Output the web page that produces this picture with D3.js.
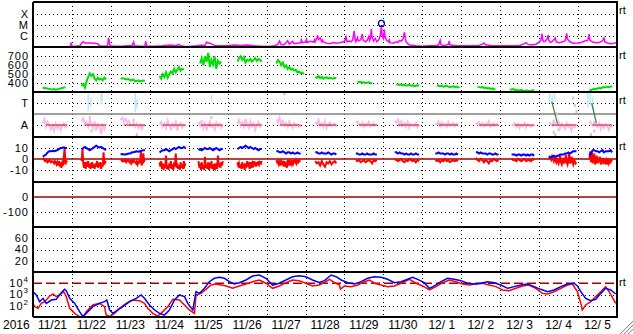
<!DOCTYPE html>
<html>
<head>
<meta charset="utf-8">
<script src="https://d3js.org/d3.v7.min.js"></script>
<style>
  body { margin: 0; background: #fff; }
  text { font-family: "Liberation Sans", Arial, sans-serif; fill: #000; }
</style>
</head>
<body>
<div id="chart"></div>
<script>
// set size and plot box
var svgWidth = 633;
var svgHeight = 334;
var left = 33, right = 617;
var panelTops = [2, 47, 92, 137, 182, 227, 272, 317];

// ---------------- data ----------------
// time is hours from 2016-11-21 00:00 UT
var startDate = Date.UTC(2016, 10, 21);
var endDate = Date.UTC(2016, 11, 6);

// x-ray flux, units of 1e-7 W/m2  [hour, flux]
var xray = [[23,1.3],[23.5,2.5],[24,1.2],[26,1.2],[29,1.3],[30,2.3],[31,3],[32,2.3],[35,2.3],[38,2.2],[40,2],[41,1.3],[44,1.2],[46,1.3],[46.5,7],[47,3.5],[47.5,1.3],[50,1.2],[55,1.2],[58,1.3],[61,1.3],[62,2.8],[62.5,1.3],[66,1.2],[69,1.2],[69.5,3.3],[70,1.2],[75,1.2],[80,1.3],[85,1.5],[88,1.3],[90,1.7],[91,1.3],[93,1.2],[96,1.1],[101,1.3],[104,1.5],[106,1.3],[107,2.7],[108,2.4],[110,1.9],[112,1.4],[116,1.3],[120,1.3],[124,1.5],[128,1.4],[132,1.5],[136,1.3],[140,1.2],[145,1.1],[149,1.3],[151,1.8],[152,3.5],[153,1.6],[155,1.7],[157,3.8],[158,1.8],[160,3.2],[161,2],[163,2.2],[165,2.4],[165.5,4.3],[166,2.5],[168,3],[168.6,5],[169,2.6],[171,3.3],[173,2.8],[173.5,4.5],[174,3],[175,7],[175.4,12],[176,5],[177,6.6],[178,3],[178.5,4.3],[179,2.8],[180,2.5],[181,2.2],[183,2],[185,2.6],[187,2.2],[189,2.4],[191,2.8],[192,3.3],[193,8],[193.5,3],[195,3.5],[196,3],[197,4],[198,30],[198.5,5],[199,3],[200,7],[200.5,3.5],[202,4.5],[203,15],[203.5,4],[205,3],[206,4],[207,9],[207.5,4],[208,6],[208.6,45],[209,8],[210,3.5],[211,6],[212,3],[213,4],[214,10],[214.8,80],[215.3,10],[216,6],[216.6,38],[217,8],[218,4],[219,3],[219.7,4.5],[220,2.5],[222,2.2],[224,3],[225,2.6],[226,4],[227,3.5],[228,5],[229,22],[229.5,6],[230,3],[231,2],[232,1.5],[236,1.3],[240,1.2],[244,1.3],[248,1.3],[250,1.5],[251,4],[251.5,1.6],[253,1.3],[256,1.7],[256.6,3.5],[257,1.5],[260,1.4],[265,1.3],[270,1.3],[275,1.4],[277,1.8],[278,2.3],[279,1.6],[282,1.4],[288,1.3],[294,1.3],[300,1.4],[303,2],[304,2.5],[305,1.8],[307,1.5],[310,1.8],[312,2.8],[313,4],[313.8,16],[314.3,4],[315,3],[316,3.5],[317,6],[317.5,12],[318,4],[319,2.6],[320,3],[322,6.6],[322.5,3],[324,2.5],[326,2.8],[328,3.5],[329,17],[329.5,5],[331,3],[333,2.2],[336,2.3],[338,2.6],[340,3.5],[342,4],[342.8,15],[343.3,4],[345,2.8],[347,2.4],[349,2.6],[351,3.5],[352,6.6],[352.5,3],[354,2.3],[356,2],[358,2.2],[360,2.5]];
var flareMark = [[214.8, 140]];
var xrayTickVals = [1000, 100, 10];
var xrayTickText = ["X", "M", "C"];

// solar wind speed km/s, hourly from each start hour
var swStart = [6, 30, 54, 78, 103, 126, 150, 174, 200, 224, 249, 274, 294, 343];
var swSpeed = [
  "345 348 342 340 335 330 328 332 326 330 336 340 345 350 352",
  "370 390 350 420 470 510 480 500 450 430 460 440 450 430 460 440",
  "450 455 450 445 440 445 430 435 440 420 425 430 420 425 430 425",
  "480 450 500 470 520 460 500 530 510 560 520 550 580 540 560 550",
  "620 680 600 700 640 740 580 660 610 700 560 650 620 640",
  "640 680 700 660 690 630 660 650 670 640 660 680 650 670 660 640",
  "620 660 640 600 630 580 600 560 580 550 560 540 550 520 530 510 520 500",
  "470 460 480 455 470 450 460 465 450 460 455 450 460 455",
  "420 410 415 405 410 400 405 410 400 395",
  "390 385 380 385 375 380 370 375 380 370 375 365 370 375 370",
  "375 370 365 370 360 365 370 360 355 360 365 355 360 350 355",
  "360 355 350 355 345 350 340 345 335 340 330 335",
  "330 325 335 320 325 315 320 325 315 310 320 315 310 315 320 315",
  "325 320 330 335 330 340 345 340 350 355 350 360 355 360 365"
];
var speedTicks = [700, 600, 500, 400];

// magnetic field segments [start hour, end hour]
var magSpan = [[6,21],[30,45],[54,69],[78,94],[102,117],[126,141],[150,165],[174,187],[199,212],[223,238],[248,262],[273,287],[295,309],[318,335],[343,357]];
// IMF angle (deg), spread evenly over each segment
var phiVals = [
  "150 180 120 160 140 100 130 90 145 110 135 95 125 150 115 130",
  "170 190 140 160 120 175 150 110 165 90 140 120 60 130 100 145",
  "175 195 160 185 150 170 140 130 155 120 145 110 135 100 125 140",
  "140 160 120 150 110 170 130 100 145 120 160 90 135 150 115 140 125",
  "160 130 175 110 150 90 140 165 120 135 100 155 125 145 110 130",
  "150 175 130 160 120 185 140 110 165 125 150 95 135 160 120 140",
  "180 160 195 140 170 130 150 120 165 135 110 150 125 140 115 130",
  "160 140 175 130 150 120 165 110 140 155 125 135 145 120",
  "150 165 140 130 155 120 145 135 160 125 140 150 130 135",
  "170 155 180 140 165 130 150 120 160 110 145 135 125 150 115 140",
  "150 140 165 125 155 135 145 120 160 130 140 150 125 145 135",
  "155 140 160 130 150 125 145 135 165 120 140 150 130 145 125",
  "140 130 150 120 145 110 135 125 150 115 140 130 120 135 125",
  "160 150 130 170 150 130 160 110 145 125 100 150 120 140 90 130 115 135",
  "170 150 130 160 140 120 150 100 135 110 140 125 95 130 115"
];
var phiCyan = [[34,250,390],[35.5,280,360],[42,300,405],[42.6,330,400],[63,240,400],[64,270,350],[110,330,380],[318.5,320,400],[320,300,390],[321.5,330,405],[342,280,400],[343.5,300,405],[345,260,360]];
var phiGray = [[35,200],[36,90],[62,180],[64,60],[110,200],[155,395],[321,80],[322,60],[323,230],[324,100],[333,360],[334,300],[335,250],[344,60],[346,90]];
var phiTrend = [[319.8,326,323.3,149],[344.4,315,347.3,151]];
var phiAway = 135, phiMid = 225;
var phiTickVals = [315, 135];
var phiTickText = ["T", "A"];

// Bt (nT) and Bz (nT), spread evenly over each segment
var btVals = [
  "2.5 3 4 6 7 7 7.5 7 7.5 8 9 10 10 10.5 10 10",
  "9 10 11 10 9 8 9 10 11 12 11 10.5 11 10 9 8",
  "4 4.5 4 4 4.5 5 5 6 6 6.5 7 6.5 7 7.5 8 8",
  "6 7 8 8 9 8 7 8 9 10 9 10 11 10 10 11 10",
  "8 9 8 9 10 9 9 10 9 8 9 10 9 8 9 9",
  "9 10 11 10 11 12 11 10 11 10 9 10 9 8 9 9",
  "7 7 6 6 7 6 5 6 6 5 6 5 5 6 5 5",
  "6 6 5 5 6 5 5 5 6 5 4 5 5 4",
  "5 5 4 4 5 4 4 5 4 4 4 5 4 4",
  "6 6 5 6 5 5 4 5 4 4 5 4 4 5 4 4",
  "5 5 6 5 5 5 4 5 5 4 5 4 4 5 4",
  "6 6 5 6 5 5 5 4 5 5 4 4 5 4 4",
  "4 4 4 3 4 4 3 4 4 3 4 3 4 4 3",
  "1 1.5 2 3 2 3 3 4 4 4 5 5 6 5 6 7 7 7",
  "3 5 8 8 7 7 6 7 8 6 7 7 7 8 6"
];
var bzVals = [
  "1 0 -1 -2 -1 -2 -3 -2 -1 -2 -3 -2 -2 -3 -4 -2 -3 -5 -3 -6 -2 -7 -3 -8 -4 -6 2 10 -5 -2 -3",
  "-2 9 -4 -8 -3 -9 -5 -7 -2 -8 -4 -9 -6 -3 -8 -5 -9 -4 -7 -2 -8 -5 -6 -3 -9 -4 -7 6 -5 -3 -2",
  "-1 -1 -2 -1 -2 -2 -1 -3 -2 -1 -2 -3 -2 -4 -2 -3 -1 -2 -3 -4 -2 -5 -3 -2 -4 7 -6 -3 5 -2 -1",
  "-3 -7 -2 -9 -4 -10 -5 -8 3 -9 -6 -10 -4 -8 -2 -9 -5 -10 -3 -7 5 -8 -4 -9 -6 -10 -3 -8 -5 -9 -2 -6 -4",
  "-2 -8 -4 -10 -3 -9 -6 -10 2 -8 -5 -9 -3 -10 -6 -8 -2 -9 -5 -10 -4 -8 -6 -9 3 -7 -4 -8 -3 -6 -2",
  "-3 -6 -4 -8 -5 -9 -3 -7 -6 -10 -4 -8 -2 -7 -5 -9 -3 -6 -4 -8 -2 -5 -4 -7 -3 -6 -2 -5 -3 -4 -2",
  "-1 -3 -2 -5 -3 -6 -2 -4 -3 -7 -2 -5 -3 -8 -1 -4 -2 -6 -3 -5 -1 -4 -2 -3 -1 -4 -2 -3 -1 -2 -2",
  "-2 -4 -3 -6 -2 -5 -7 -3 -4 -2 -5 -3 -2 -4",
  "-1 -2 -1 -3 -2 -1 -3 -2 -1 -2 -4 -1 -2 -1",
  "0 -1 -2 -1 0 -2 -3 -1 -2 0 -1 -2 -1 -3 -1 -2",
  "-1 -2 -1 -3 -1 -2 0 -2 -1 -3 -2 -1 -2 -1 -2",
  "1 -1 -2 0 -1 -3 -1 -2 -4 -1 -2 0 -1 -2 -1",
  "0 -1 -1 -2 0 -1 -2 -1 0 -2 -1 -1 -2 0 -1",
  "1 2 0 -1 2 0 -2 1 -1 -3 0 -2 -4 -1 3 -3 -5 -2 1 -4 -2 4 -3 -5 -1 5 -4 -2 2 -3 -5 -1 -2 -4 -3",
  "0 7 -3 6 -4 -1 5 -5 -2 3 -4 -1 -3 2 -5 -2 -4 1 -3 -2 -5 -1 -3 0 -4 -2 -3 -1 -2"
];
var bTicks = [10, 0, -10];

var dstTicks = [0, -100];
var kpTicks = [60, 40, 20];

// >2MeV electron flux [hour, flux]
var elecBlue = [[0,1780],[2,912],[4.1,229],[6.2,457],[8.2,162],[11.3,324],[14.3,372],[17.4,1450],[19.5,2880],[20.5,2190],[22.6,457],[25.7,162],[28.7,30],[30.8,11],[33.8,30],[36.9,83],[41,162],[44.1,229],[45.5,324],[47.2,42],[49.2,21],[52.3,42],[55.4,83],[59.5,229],[63.6,457],[66.6,912],[68.7,457],[71.8,117],[74.9,42],[78,21],[81,15],[84.1,42],[87.2,324],[90.3,912],[93.4,646],[95.4,162],[98.5,42],[100.5,1780],[102.6,1260],[105.7,3550],[108.7,13800],[111.8,27500],[114.9,33900],[118,27500],[121,13800],[124.1,8510],[127.2,11200],[131.3,19500],[135.4,43600],[139.5,53700],[143.6,27500],[147.7,6920],[151.8,10000],[155.9,19500],[160,38000],[164.1,46800],[168.2,38000],[172.3,19500],[176.4,12000],[179.7,17000],[183.8,53700],[186.9,38000],[190,19500],[194,11200],[198.2,8510],[202.3,13800],[206.3,27500],[210.5,38000],[214.6,33900],[218.6,22400],[222.8,11200],[226.9,13800],[230.9,22400],[234,33900],[237.1,22400],[241.2,11200],[244.3,3550],[247.4,5750],[251.5,13800],[255.6,27500],[259.7,22400],[263.8,17000],[267.9,10000],[272,8510],[276.1,10000],[280.2,13800],[284.3,11200],[288.4,6920],[292.5,3550],[296.6,5010],[300.7,6920],[304.8,8510],[308.9,5010],[313,2880],[317.1,1780],[321.2,2510],[325.4,5010],[329.4,8510],[333.5,10000],[335.6,5750],[337.7,1780],[340.7,457],[343.8,282],[346.9,372],[350,1260],[353,3550],[356.1,2510],[359.2,1100]];
var elecRed = [[0,162],[1,83],[3.1,59],[5.1,162],[7.2,229],[10.3,741],[12.3,1100],[14.3,646],[16.4,912],[18.9,1780],[20.5,646],[22.6,59],[25.7,21],[28.7,11],[30.8,8],[32.8,30],[36.9,117],[41,162],[44.1,83],[45.1,15],[47.2,11],[50.3,21],[53.4,59],[57.4,162],[61.5,324],[65.7,282],[68.7,162],[70.8,59],[73.8,21],[76.9,12],[80,30],[83.1,83],[86.2,372],[90.3,324],[93.4,117],[96.4,42],[99.5,21],[100.5,912],[103.6,1260],[106.6,2880],[109.7,6920],[112.8,8510],[115.9,6920],[119,5750],[123.1,3550],[127.2,5750],[131.3,8510],[135.4,13800],[139.5,19500],[143.6,10000],[147.7,3550],[151.8,5750],[155.9,11200],[160,19500],[164.1,17000],[168.2,10000],[172.3,5750],[176.4,6920],[179.7,12000],[182.8,22400],[185.8,11200],[188.9,6920],[189.5,3000],[192,5750],[196.1,5010],[200.2,6920],[204.3,13800],[207.4,19500],[210.5,10000],[214.6,6920],[218.6,5010],[222.8,5750],[226.9,10000],[232,22400],[236.1,10000],[240.2,5750],[244.3,2510],[248.4,5010],[252.5,11200],[256.6,19500],[260.7,13800],[264.8,8510],[268.9,6920],[273,8510],[277.1,10000],[281.2,6920],[285.4,5010],[289.4,2510],[293.5,2190],[297.7,3550],[301.7,5750],[305.8,6920],[309.9,3550],[314,1260],[317.1,1100],[321.2,1780],[325.4,3550],[329.4,6920],[332.5,8510],[335.6,1780],[337.7,162],[338.6,42],[340.7,117],[343.8,229],[346.9,646],[350,1780],[353,5010],[356.1,1100],[359.2,162]];
var elecAlert = 1e4;
var elecTicks = [1e4, 1e3, 1e2];
var elecExp = ["4", "3", "2"];

// ---------------- drawing ----------------
var svg = d3.select("#chart")
  .append("svg")
  .attr("width", svgWidth)
  .attr("height", svgHeight);

var x = d3.scaleTime()
  .domain([new Date(startDate), new Date(endDate)])
  .range([left, right]);

function hx(h) {
  return x(new Date(startDate + h * 3600e3));
}

var yXray = d3.scaleLog().domain([1, 1e4]).range([47, 3]);
var ySpeed = d3.scaleLinear().domain([300, 805]).range([92, 47]);
var yPhi = d3.scaleLinear().domain([37, 405]).range([137, 92]);
var yB = d3.scaleLinear().domain([-21, 20]).range([182, 137]);
var yDst = d3.scaleLinear().domain([-200, 100]).range([227, 182]);
var yKp = d3.scaleLinear().domain([0, 80]).range([272, 227]);
var yElec = d3.scaleLog().domain([10, 1e5]).range([317, 272]);

// clip each panel
var defs = svg.append("defs");
for (var i = 0; i < 7; i++) {
  defs.append("clipPath").attr("id", "clip" + i)
    .append("rect")
    .attr("x", left).attr("y", panelTops[i])
    .attr("width", right - left).attr("height", panelTops[i + 1] - panelTops[i]);
}

var gridGroup = svg.append("g").attr("shape-rendering", "crispEdges");

function dotted(y) {
  gridGroup.append("line")
    .attr("x1", left).attr("x2", right)
    .attr("y1", Math.round(y) + 0.5).attr("y2", Math.round(y) + 0.5)
    .attr("stroke", "#000")
    .attr("stroke-dasharray", "1,3");
}

xrayTickVals.forEach(v => dotted(yXray(v)));
speedTicks.forEach(v => dotted(ySpeed(v)));
phiTickVals.forEach(v => dotted(yPhi(v)));
[10, -10].forEach(v => dotted(yB(v)));
[-100].forEach(v => dotted(yDst(v)));
kpTicks.forEach(v => dotted(yKp(v)));
[1e3, 1e2].forEach(v => dotted(yElec(v)));

// vertical day lines
var days = d3.utcDay.range(new Date(startDate + 86400e3), new Date(endDate));
gridGroup.selectAll(".vday")
  .data(days)
  .enter()
  .append("line")
  .attr("x1", d => Math.round(x(d)) + 0.5)
  .attr("x2", d => Math.round(x(d)) + 0.5)
  .attr("y1", panelTops[0])
  .attr("y2", panelTops[7])
  .attr("stroke", "#000")
  .attr("stroke-dasharray", "1,3");

// reference lines
function refLine(y, color, dash, w) {
  svg.append("line")
    .attr("x1", left).attr("x2", right)
    .attr("y1", y).attr("y2", y)
    .attr("stroke", color)
    .attr("stroke-width", w)
    .attr("stroke-dasharray", dash);
}
refLine(yPhi(phiMid), "#808080", null, 1.5);
refLine(yB(0), "#a00000", null, 1.5);
refLine(yDst(0), "#a00000", null, 1.5);
refLine(yElec(elecAlert), "#a00000", "9,4", 1.5);

// helper: spread a value string evenly over a span
function spread(t0, t1, str) {
  var vals = str.split(" ").map(Number);
  var step = (t1 - t0) / (vals.length - 1);
  return vals.map((v, i) => [t0 + i * step, v]);
}

// x-ray panel
var xrayLine = d3.line().x(d => hx(d[0])).y(d => yXray(d[1]));
svg.append("path")
  .attr("clip-path", "url(#clip0)")
  .attr("d", xrayLine(xray))
  .attr("fill", "none")
  .attr("stroke", "#ff00ff")
  .attr("stroke-width", 1.5);
svg.selectAll(".flare")
  .data(flareMark)
  .enter()
  .append("circle")
  .attr("cx", d => hx(d[0]))
  .attr("cy", d => yXray(d[1]))
  .attr("r", 3)
  .attr("fill", "none")
  .attr("stroke", "#0000c0")
  .attr("stroke-width", 1.2);

// solar wind speed
var speedLine = d3.line().x(d => hx(d[0])).y(d => ySpeed(d[1]));
swSpeed.forEach(function(str, i) {
  var vals = str.split(" ").map(Number);
  var pts = spread(swStart[i], swStart[i] + vals.length - 1, str);
  svg.append("path")
    .attr("clip-path", "url(#clip1)")
    .attr("d", speedLine(pts))
    .attr("fill", "none")
    .attr("stroke", "#00e000")
    .attr("stroke-width", 2);
});

// IMF direction panel
var phiLine = d3.line().x(d => hx(d[0])).y(d => yPhi(d[1]));
magSpan.forEach(function(s, i) {
  svg.append("path")
    .attr("clip-path", "url(#clip2)")
    .attr("d", phiLine(spread(s[0], s[1], phiVals[i])))
    .attr("fill", "none")
    .attr("stroke", "#f4bcf0")
    .attr("stroke-width", 2);
});
svg.selectAll(".gray")
  .data(phiGray)
  .enter()
  .append("rect")
  .attr("x", d => hx(d[0]) - 1)
  .attr("y", d => yPhi(d[1]) - 1)
  .attr("width", 2).attr("height", 3)
  .attr("fill", "#c8c8c8");
svg.selectAll(".cyan")
  .data(phiCyan)
  .enter()
  .append("line")
  .attr("clip-path", "url(#clip2)")
  .attr("x1", d => hx(d[0])).attr("x2", d => hx(d[0]))
  .attr("y1", d => yPhi(d[1])).attr("y2", d => yPhi(d[2]))
  .attr("stroke", "#bce8f6")
  .attr("stroke-width", 1.5);
svg.selectAll(".away")
  .data(magSpan)
  .enter()
  .append("line")
  .attr("x1", d => hx(d[0] + 2)).attr("x2", d => hx(d[1]))
  .attr("y1", yPhi(phiAway)).attr("y2", yPhi(phiAway))
  .attr("stroke", "#e03030")
  .attr("stroke-width", 1.2);
svg.selectAll(".trend")
  .data(phiTrend)
  .enter()
  .append("line")
  .attr("x1", d => hx(d[0])).attr("y1", d => yPhi(d[1]))
  .attr("x2", d => hx(d[2])).attr("y2", d => yPhi(d[3]))
  .attr("stroke", "#3c8040")
  .attr("stroke-width", 1.2);

// Bt / Bz panel
var bLine = d3.line().x(d => hx(d[0])).y(d => yB(d[1]));
magSpan.forEach(function(s, i) {
  svg.append("path")
    .attr("clip-path", "url(#clip3)")
    .attr("d", bLine(spread(s[0], s[1], bzVals[i])))
    .attr("fill", "none")
    .attr("stroke", "#ff0000")
    .attr("stroke-width", 2);
  svg.append("path")
    .attr("clip-path", "url(#clip3)")
    .attr("d", bLine(spread(s[0], s[1], btVals[i])))
    .attr("fill", "none")
    .attr("stroke", "#0000ff")
    .attr("stroke-width", 2);
});

// electron flux panel
var eLine = d3.line().x(d => hx(d[0])).y(d => yElec(Math.max(d[1], 5)));
svg.append("path")
  .attr("clip-path", "url(#clip6)")
  .attr("d", eLine(elecRed))
  .attr("fill", "none")
  .attr("stroke", "#ff0000")
  .attr("stroke-width", 1.5);
svg.append("path")
  .attr("clip-path", "url(#clip6)")
  .attr("d", eLine(elecBlue))
  .attr("fill", "none")
  .attr("stroke", "#0000ff")
  .attr("stroke-width", 1.5);

// panel frames
var frame = svg.append("g").attr("shape-rendering", "crispEdges");
frame.selectAll(".hb")
  .data(panelTops)
  .enter()
  .append("line")
  .attr("x1", left).attr("x2", right + 1)
  .attr("y1", d => d).attr("y2", d => d)
  .attr("stroke", "#000")
  .attr("stroke-width", 2);
[left, right].forEach(function(xx) {
  frame.append("line")
    .attr("x1", xx).attr("x2", xx)
    .attr("y1", panelTops[0]).attr("y2", panelTops[7])
    .attr("stroke", "#000")
    .attr("stroke-width", 2);
});

// left labels
var labelX = 29;
function leftLabel(y, txt) {
  svg.append("text")
    .attr("x", labelX).attr("y", y)
    .attr("dy", "0.36em")
    .attr("text-anchor", "end")
    .attr("font-size", "11px")
    .attr("letter-spacing", "1px")
    .text(txt);
}
xrayTickVals.forEach((v, i) => leftLabel(yXray(v), xrayTickText[i]));
speedTicks.forEach(v => leftLabel(ySpeed(v), v));
phiTickVals.forEach((v, i) => leftLabel(yPhi(v), phiTickText[i]));
bTicks.forEach(v => leftLabel(yB(v), v));
dstTicks.forEach(v => leftLabel(yDst(v), v));
kpTicks.forEach(v => leftLabel(yKp(v), v));
elecTicks.forEach(function(v, i) {
  var t = svg.append("text")
    .attr("x", labelX).attr("y", yElec(v))
    .attr("dy", "0.36em")
    .attr("text-anchor", "end")
    .attr("font-size", "11px")
    .attr("letter-spacing", "1px");
  t.append("tspan").text("10");
  t.append("tspan").attr("dy", -5).attr("font-size", "8px").text(elecExp[i]);
});

// rt markers at the right
[14, 59, 104, 150, 286].forEach(function(y) {
  svg.append("text")
    .attr("x", 619).attr("y", y)
    .attr("font-size", "11px")
    .text("rt");
});

// date labels
var dayMid = d3.utcDay.range(new Date(startDate), new Date(endDate)).map(d => d3.utcHour.offset(d, 12));
var fmt = d3.utcFormat("%-m/%e");
svg.selectAll(".dlabel")
  .data(dayMid)
  .enter()
  .append("text")
  .attr("x", d => x(d))
  .attr("y", 329)
  .attr("text-anchor", "middle")
  .attr("font-size", "12px")
  .attr("xml:space", "preserve")
  .text(d => fmt(d));
svg.append("text")
  .attr("x", 3).attr("y", 329)
  .attr("font-size", "12px")
  .text("2016");

// resize grip in the corner
[[620, 334, 633, 321], [624, 334, 633, 325], [628, 334, 633, 329]].forEach(function(g) {
  svg.append("line")
    .attr("x1", g[0]).attr("y1", g[1]).attr("x2", g[2]).attr("y2", g[3])
    .attr("stroke", "#909090").attr("stroke-width", 1);
  svg.append("line")
    .attr("x1", g[0] + 1).attr("y1", g[1]).attr("x2", g[2]).attr("y2", g[3] + 1)
    .attr("stroke", "#e8e8e8").attr("stroke-width", 1);
});
</script>
</body>
</html>
